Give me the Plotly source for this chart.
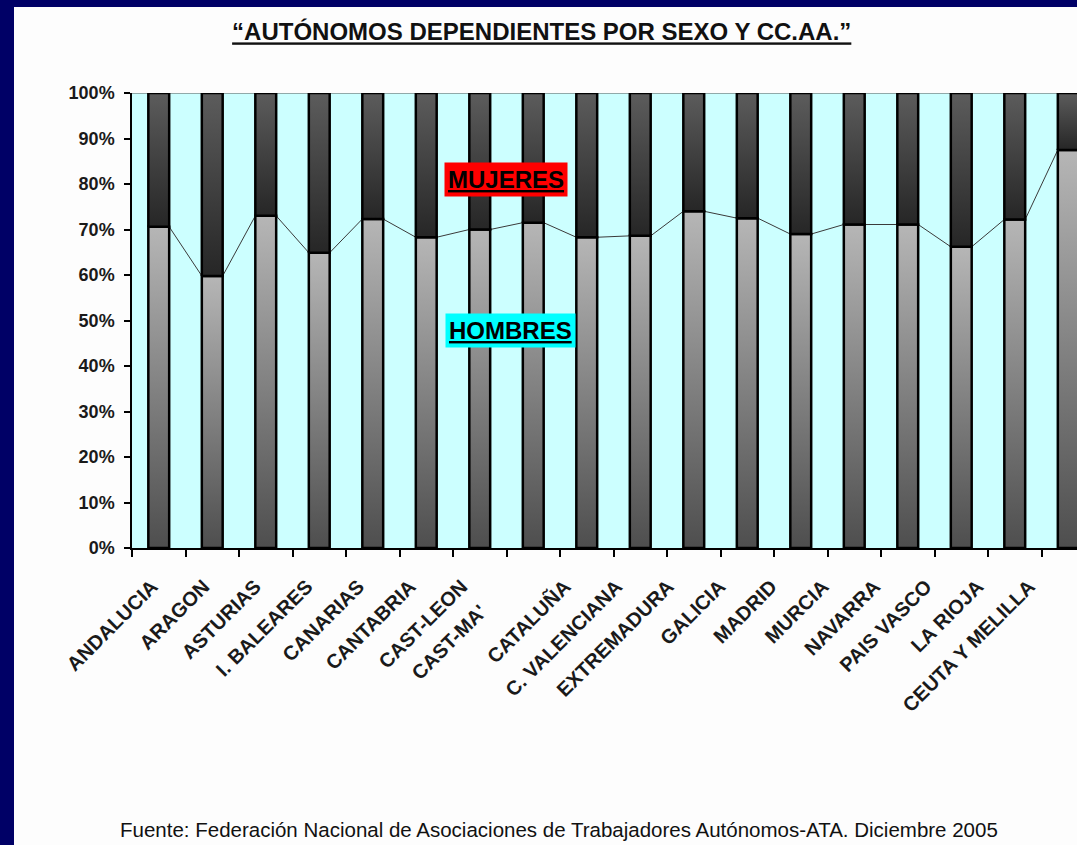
import plotly.graph_objects as go

# datos (% hombres sobre el total de autonomos dependientes)
regiones = ['ANDALUCIA', 'ARAGON', 'ASTURIAS', 'I. BALEARES', 'CANARIAS', 'CANTABRIA',
            'CAST-LEON', "CAST-MA'", 'CATALUÑA', 'C. VALENCIANA', 'EXTREMADURA', 'GALICIA',
            'MADRID', 'MURCIA', 'NAVARRA', 'PAIS VASCO', 'LA RIOJA', 'CEUTA Y MELILLA']
hombres = [70.6, 59.8, 73.0, 64.9, 72.3, 68.3, 70.0, 71.5, 68.3, 68.6,
           74.0, 72.5, 69.0, 71.1, 71.1, 66.2, 72.2, 87.5]
mujeres = [100 - h for h in hombres]
y_ticks = list(range(0, 101, 10))
y_labels = [f'{v}%' for v in y_ticks]

FONT = 'Liberation Sans, Arial, sans-serif'
W, H = 1077, 845
L, T, B = 132, 93, 297          # margenes en px
PW, PH = W - L, H - T - B        # area de trazado
hw = 0.195                       # media anchura de barra

fig = go.Figure()

# lineas de serie entre barras
lx, ly = [], []
for i in range(len(hombres) - 1):
    lx += [i + hw, i + 1 - hw, None]
    ly += [hombres[i], hombres[i + 1], None]
fig.add_trace(go.Scatter(x=lx, y=ly, mode='lines', line=dict(color='#3a3a3a', width=1),
                         hoverinfo='skip', showlegend=False))

for i, (h, m) in enumerate(zip(hombres, mujeres)):
    xs = [i - hw, i + hw, i + hw, i - hw, i - hw]
    fig.add_trace(go.Scatter(
        x=xs, y=[0, 0, h, h, 0], fill='toself', mode='lines',
        line=dict(color='black', width=2.5),
        fillgradient=dict(type='vertical', colorscale=[[0, '#4e4e4e'], [1, '#b6b6b6']]),
        name='HOMBRES', showlegend=False))
    fig.add_trace(go.Scatter(
        x=xs, y=[h, h, h + m, h + m, h], fill='toself', mode='lines',
        line=dict(color='black', width=2.5),
        fillgradient=dict(type='vertical', colorscale=[[0, '#262626'], [1, '#5c5c5c']]),
        name='MUJERES', showlegend=False))

# eje auxiliar solo para las etiquetas (van algo mas juntas que las barras)
paso_lab = 51.6
a2 = -(152 - L) / paso_lab
fig.add_trace(go.Scatter(x=list(range(len(regiones))), y=hombres, xaxis='x2', mode='markers',
                         marker=dict(opacity=0), hoverinfo='skip', showlegend=False))
ticktext = [r if r != "CAST-MA'" else '' for r in regiones]

fig.update_layout(
    width=W, height=H,
    margin=dict(l=L, r=0, t=T, b=B, autoexpand=False),
    paper_bgcolor='#fdfdfd', plot_bgcolor='#ccffff',
    font=dict(family=FONT, color='#1a1a1a'),
    title=dict(text='“AUTÓNOMOS DEPENDIENTES POR SEXO Y CC.AA.”', x=0.503, xanchor='center',
               y=1 - 32 / H, yanchor='middle', xref='container', yref='container',
               font=dict(size=24, weight='bold', color='#111', lineposition='under')),
    xaxis=dict(range=[-0.5, -0.5 + PW / 53.5], tickvals=[i - 0.5 for i in range(len(regiones))],
               showticklabels=False, ticks='outside', ticklen=7, tickwidth=1.5, tickcolor='black',
               showline=True, linecolor='black', linewidth=2, showgrid=False, zeroline=False),
    xaxis2=dict(overlaying='x', anchor='y', side='bottom', range=[a2, a2 + PW / paso_lab],
                tickvals=list(range(len(regiones))), ticktext=ticktext, tickangle=-45,
                tickfont=dict(size=20, weight='bold', color='#1a1a1a'), ticks='', showline=False,
                showgrid=False, zeroline=False, ticklabelstandoff=22),
    yaxis=dict(range=[0, 100], tickvals=y_ticks, ticktext=y_labels, ticks='outside', ticklen=6,
               tickcolor='black', tickwidth=1.5, showline=True, linecolor='black', linewidth=1.5,
               showgrid=False, zeroline=False, ticklabelstandoff=6,
               tickfont=dict(size=18, weight='bold', color='#1a1a1a')),
    showlegend=False,
)

# borde azul marino de la diapositiva y linea superior del area
navy = '#000066'
fig.add_shape(type='rect', xref='paper', yref='paper', x0=-L / PW, x1=(14 - L) / PW,
              y0=-B / PH, y1=(H - B) / PH, fillcolor=navy, line_width=0, layer='above')
fig.add_shape(type='rect', xref='paper', yref='paper', x0=-L / PW, x1=1,
              y0=1 + (T - 7) / PH, y1=1 + T / PH, fillcolor=navy, line_width=0, layer='above')
fig.add_shape(type='line', xref='paper', yref='y', x0=0, x1=1, y0=100, y1=100,
              line=dict(color='#555', width=1), layer='below')

fig.add_annotation(text='MUJERES', xref='x', yref='y', x=6.49, y=80.9, showarrow=False,
                   xanchor='center', yanchor='middle', bgcolor='#ff0000', borderpad=3,
                   font=dict(size=24, weight='bold', color='black', lineposition='under'))
fig.add_annotation(text='HOMBRES', xref='x', yref='y', x=6.57, y=47.7, showarrow=False,
                   xanchor='center', yanchor='middle', bgcolor='#00ffff', borderpad=3,
                   font=dict(size=24, weight='bold', color='black', lineposition='under'))
fig.add_annotation(text="CAST-MA'", xref='paper', yref='paper', x=(449 - L) / PW,
                   y=(548 - 642) / PH, xanchor='center', yanchor='middle', textangle=-45,
                   showarrow=False, font=dict(size=20, weight='bold', color='#1a1a1a'))
fig.add_annotation(text='Fuente: Federación Nacional de Asociaciones de Trabajadores Autónomos-ATA. Diciembre 2005',
                   xref='paper', yref='paper', x=(559 - L) / PW, y=(548 - 829) / PH,
                   xanchor='center', yanchor='middle',
                   showarrow=False, font=dict(size=20.5, color='#111'))

fig.write_html('out.html', config={'displayModeBar': False},
               post_script="document.body.style.margin='0';")
